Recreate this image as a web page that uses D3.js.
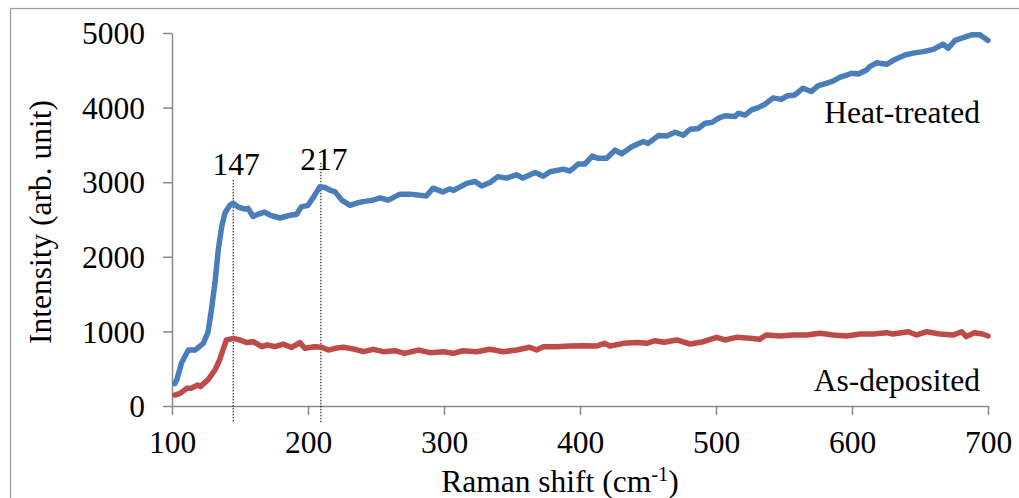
<!DOCTYPE html>
<html>
<head>
<meta charset="utf-8">
<script src="https://cdn.jsdelivr.net/npm/d3@7"></script>
<style>
  html, body { margin: 0; padding: 0; background: #fff; }
  svg { display: block; }
  text { font-family: "Liberation Serif", "Times New Roman", serif; fill: #000; }
</style>
</head>
<body>
<svg id="chart" width="1019" height="498"></svg>
<script>
// ---- data ----
const heatX = [102,103.5,107,112,117,123,126.5,129,131.6,134,136.5,139,142.6,145,148.5,153.7,156,159.6,163,168,172,179.4,185,191.7,195,200,203.7,208.8,212.5,216,220,224.8,231,236.8,240.5,247.8,253,259,267.6,275,287,292,299,304,307,316.7,322.8,327.7,333.8,339.7,346,353.4,358,367,373,378,385,387.7,392.6,398.8,403.7,409,413.5,419.6,425.7,430.7,438,446.6,450,457.6,463.7,469.9,476,481,487,492,496.8,501.7,506.6,514,516.4,521.3,526.2,531,536,542,548,552,558,564,570,575,581,586,591,596,599.8,604.6,610.8,613,618,625.5,631.6,639,645,652.4,659.8,667,670.8,675.7,680.7,688,694,696,700];
const heatY = [300,350,576,750,750,840,990,1290,1650,2090,2400,2590,2690,2720,2670,2640,2650,2540,2570,2600,2560,2520,2550,2570,2670,2690,2790,2940,2930,2895,2870,2760,2690,2725,2740,2760,2790,2760,2840,2840,2815,2920,2870,2910,2890,2985,3010,2950,2995,3075,3055,3100,3055,3130,3080,3140,3165,3175,3150,3245,3245,3350,3320,3320,3430,3380,3475,3545,3520,3625,3620,3670,3630,3710,3720,3790,3800,3855,3890,3880,3925,3900,3970,4000,4045,4130,4110,4155,4170,4260,4215,4290,4325,4355,4405,4435,4460,4450,4505,4550,4600,4580,4645,4705,4730,4750,4780,4850,4795,4900,4930,4975,4975,4950,4900];

const depX = [102,106,110.8,114,119,121,126.7,131.6,135,140,145,150,155,159.8,166,170,175.7,181.8,188,194,197.8,205,210,215,220,226,234.6,240.7,248,255.4,264,271,281,289.7,299.5,306.8,314,324,333.8,343.6,353.4,363,368,373,383,392.6,402,412,418,422,432,441.7,449,455,462,471,481,490.7,500.5,506.6,515,525,532,537,547,556.8,566.7,576.5,586,596,606,615.7,625.5,630,641.4,647.6,655,664.7,674.5,680.6,684,690,696,700];
const depY = [147,170,237,237,281,260,357,483,617,885,907,885,850,862,795,820,795,830,785,850,773,795,787,750,773,787,760,728,760,728,741,706,750,715,728,706,741,728,760,728,750,787,750,795,795,804,808,804,840,804,840,850,840,875,855,885,831,862,920,885,920,907,894,952,938,952,952,975,952,938,965,965,983,965,996,952,996,965,952,996,930,983,965,938];

const seriesNames = ["Heat-treated", "As-deposited"];
const seriesColors = ["#4a7ebb", "#be4b48"];
const seriesLabelPos = [[700, 3794], [700, 201]]; // data coords of label anchor (end)

const xTicks = [100, 200, 300, 400, 500, 600, 700];
const yTicks = [0, 1000, 2000, 3000, 4000, 5000];

const peakLabels = ["147", "217"];
const peakX = [145, 209.5];
const peakTop = [3030, 3260];
const peakLabelY = [3096, 3164];

const xTitle = "Raman shift (cm";
const xTitleSup = "-1";
const yTitle = "Intensity (arb. unit)";

// ---- layout ----
const svg = d3.select("#chart");
const x = d3.scaleLinear().domain([100, 700]).range([172, 988]);
const y = d3.scaleLinear().domain([0, 5000]).range([406, 33]);
const axisColor = "#8a8a8a";
const fs = 31.5;

// outer frame
svg.append("rect").attr("x", 10.5).attr("y", 8.5).attr("width", 1030).attr("height", 520)
  .attr("fill", "none").attr("stroke", "#9a9a9a").attr("stroke-width", 1.2);

// y axis
const yAxis = svg.append("g").attr("transform", `translate(${x(100)},0)`)
  .call(d3.axisLeft(y).tickValues(yTicks).tickSize(9).tickSizeOuter(0).tickPadding(18).tickFormat(d3.format("d")));
// x axis
const xAxis = svg.append("g").attr("transform", `translate(0,${y(0)})`)
  .call(d3.axisBottom(x).tickValues(xTicks).tickSize(9).tickSizeOuter(0).tickPadding(9).tickFormat(d3.format("d")));

[yAxis, xAxis].forEach(g => {
  g.select(".domain").attr("stroke", axisColor).attr("stroke-width", 1.5);
  g.selectAll(".tick line").attr("stroke", axisColor).attr("stroke-width", 1.5);
  g.selectAll(".tick text").attr("font-family", "'Liberation Serif', 'Times New Roman', serif")
    .attr("font-size", fs).attr("fill", "#000");
});
xAxis.selectAll(".tick text").attr("dy", "0.92em");
yAxis.selectAll(".tick text").attr("dy", "0.34em");

// peak markers
const peaks = peakLabels.map((t, i) => ({t, x: peakX[i], top: peakTop[i], ly: peakLabelY[i]}));
svg.append("g").selectAll("line").data(peaks).join("line")
  .attr("x1", d => x(d.x)).attr("x2", d => x(d.x))
  .attr("y1", d => y(d.top)).attr("y2", y(-228))
  .attr("stroke", "#000").attr("stroke-width", 1).attr("stroke-dasharray", "1.5,1.5");

// series
const line = d3.line().x(d => x(d[0])).y(d => y(d[1]));
const series = [
  d3.zip(heatX, heatY),
  d3.zip(depX, depY)
];
// draw red first so blue sits above
[1, 0].forEach(i => {
  svg.append("path").datum(series[i]).attr("d", line)
    .attr("fill", "none").attr("stroke", seriesColors[i]).attr("stroke-width", 5.5)
    .attr("stroke-linejoin", "round").attr("stroke-linecap", "round");
});

// peak labels
svg.append("g").selectAll("text").data(peaks).join("text")
  .attr("x", d => x(d.x) + 3).attr("y", d => y(d.ly))
  .attr("text-anchor", "middle").attr("font-size", fs).text(d => d.t);

// series labels
svg.append("g").selectAll("text").data(seriesNames).join("text")
  .attr("x", (d, i) => x(seriesLabelPos[i][0]) - 8)
  .attr("y", (d, i) => y(seriesLabelPos[i][1]))
  .attr("text-anchor", "end").attr("font-size", fs).text(d => d);

// axis titles
const xt = svg.append("text").attr("x", 560).attr("y", 492).attr("text-anchor", "middle").attr("font-size", fs);
xt.append("tspan").text(xTitle);
xt.append("tspan").attr("font-size", fs * 0.65).attr("dy", -11).text(xTitleSup);
xt.append("tspan").attr("dy", 11).text(")");

svg.append("text").attr("transform", "translate(51,222) rotate(-90)")
  .attr("text-anchor", "middle").attr("font-size", fs).text(yTitle);
</script>
</body>
</html>
